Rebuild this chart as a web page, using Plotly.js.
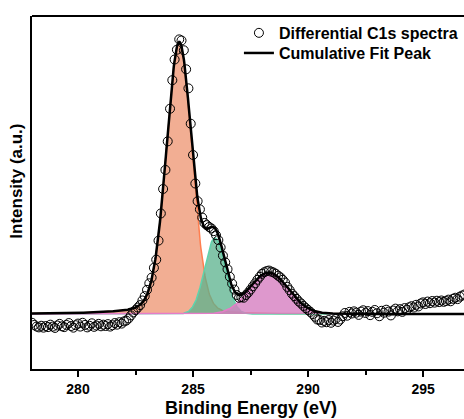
<!DOCTYPE html>
<html>
<head>
<meta charset="utf-8">
<script src="https://cdn.plot.ly/plotly-3.0.1.min.js"></script>
<style>
html,body{margin:0;padding:0;background:#fff;}
#chart{width:464px;height:419px;}
</style>
</head>
<body>
<div id="chart"></div>
<script>
// Measured spectrum: binding energy grid and intensities (a.u.)
const energyStart = 278.0;
const energyStep = 0.1;
const intensity = [
  -3.2,-4.0,-4.6,-4.9,-4.3,-5.0,-4.4,-4.8,-3.9,-4.6,
  -5.1,-4.2,-3.6,-4.5,-4.8,-4.0,-3.3,-4.4,-5.0,-4.1,
  -3.5,-4.6,-3.2,-4.0,-4.9,-4.3,-3.4,-4.7,-4.2,-3.6,
  -4.5,-3.9,-4.4,-3.7,-4.6,-4.1,-3.3,-3.9,-3.0,-3.5,
  -2.7,-2.4,-1.6,-0.5,0.6,1.5,2.4,3.3,5.0,6.6,
  8.9,11.3,13.4,17.0,20.0,27.0,37.0,46.0,53.0,63.5,
  75.5,86.0,93.6,97.2,101.0,100.6,97.0,90.0,83.0,70.0,
  58.5,48.0,41.5,38.5,35.5,33.5,32.7,32.0,31.5,30.5,
  29.0,27.2,24.5,21.5,19.0,16.5,13.7,11.2,9.0,7.0,
  6.0,6.2,6.0,7.0,7.9,9.0,10.2,11.3,12.6,13.7,
  14.8,15.4,15.8,16.0,15.6,15.3,14.8,14.1,13.5,12.6,
  11.6,10.0,8.8,7.5,6.6,5.6,4.6,3.9,3.0,2.2,
  1.5,0.8,0.0,-1.0,-2.0,-2.2,-3.1,-2.5,-3.0,-2.2,
  -3.2,-2.4,-1.8,-2.9,-2.0,-0.8,0.4,-0.6,0.8,0.2,
  1.0,0.5,-0.3,0.9,1.4,0.4,1.1,-0.4,0.8,1.5,
  0.3,-0.8,1.2,0.5,1.6,0.9,-0.5,1.3,2.0,1.0,
  1.8,0.8,2.2,1.6,2.5,2.9,2.4,3.4,2.8,3.9,
  4.3,3.7,4.6,4.0,4.8,4.2,4.9,4.4,5.0,4.5,
  4.8,5.3,4.7,5.6,6.0,5.5,6.4,6.8,7.2
];

// Fitted component peaks (pseudo-Voigt parameters)
const peakCenters = [284.4, 285.95, 288.3];
const peakHeights = [100, 28, 15];
const peakHwhmLeft = [0.66, 0.525, 1.0];
const peakHwhmRight = [0.65, 0.525, 1.0];
const peakEtaLeft = [0.2, 0, 0];
const peakEtaRight = [0.1, 0, 0];
const peakFill = ['rgba(240,160,128,0.85)', 'rgba(90,178,140,0.75)', 'rgba(214,126,192,0.8)'];
const peakLine = ['#FF7F50', '#5FD3AC', '#E57CC8'];

const xTickVals = [280, 285, 290, 295];
const xTickText = ['280', '285', '290', '295'];

const energy = intensity.map((_, i) => +(energyStart + i * energyStep).toFixed(2));

function pv(E, k) {
  const d = E - peakCenters[k];
  const w = d < 0 ? peakHwhmLeft[k] : peakHwhmRight[k];
  const eta = d < 0 ? peakEtaLeft[k] : peakEtaRight[k];
  const t = (d / w) * (d / w);
  return peakHeights[k] * ((1 - eta) * Math.exp(-Math.LN2 * t) + eta / (1 + t));
}

const fine = [];
for (let e = 278.0; e <= 296.9001; e += 0.02) fine.push(+e.toFixed(3));

const traces = [];
for (let k = 0; k < peakCenters.length; k++) {
  traces.push({
    x: fine, y: fine.map(e => pv(e, k)),
    type: 'scatter', mode: 'lines', fill: 'tozeroy',
    fillcolor: peakFill[k], line: {color: peakLine[k], width: 1.5},
    showlegend: false, hoverinfo: 'skip'
  });
}
traces.push({
  x: energy, y: intensity, type: 'scatter', mode: 'markers',
  name: 'Differential C1s spectra', legend: 'legend',
  marker: {symbol: 'circle-open', size: 9, color: '#000', line: {width: 1, color: '#000'}}
});
traces.push({
  x: fine, y: fine.map(e => pv(e, 0) + pv(e, 1) + pv(e, 2)),
  type: 'scatter', mode: 'lines', name: 'Cumulative Fit Peak', legend: 'legend2',
  line: {color: '#000', width: 2.5}
});

const FONT = 'Liberation Sans, Arial, Helvetica, sans-serif';
const legendBase = {
  xanchor: 'left', yanchor: 'middle',
  bgcolor: 'rgba(0,0,0,0)', borderwidth: 0,
  font: {size: 16, family: FONT, weight: 'bold'}
};
const layout = {
  width: 464, height: 419,
  margin: {l: 32, r: 0, t: 16, b: 50},
  paper_bgcolor: '#fff', plot_bgcolor: '#fff',
  font: {family: FONT, color: '#000'},
  xaxis: {
    range: [278, 296.78], tickvals: xTickVals, ticktext: xTickText,
    ticks: 'outside', ticklen: 6, tickwidth: 2, tickcolor: '#000',
    minor: {tickvals: [282.5, 287.5, 292.5], ticks: 'outside', ticklen: 4, tickwidth: 2, tickcolor: '#000'},
    showline: true, linewidth: 2, linecolor: '#000',
    showgrid: false, zeroline: false,
    tickfont: {size: 14, family: FONT, weight: 'bold'}
  },
  yaxis: {
    range: [-20.2, 109.6], showticklabels: false, ticks: '',
    showline: true, linewidth: 2, linecolor: '#000',
    showgrid: false, zeroline: false
  },
  shapes: [{type: 'line', xref: 'paper', yref: 'paper', x0: 0, x1: 1, y0: 1, y1: 1, line: {color: '#000', width: 2}}],
  annotations: [
    {text: 'Binding Energy (eV)', xref: 'paper', yref: 'paper', x: 0.507, y: -0.110,
     xanchor: 'center', yanchor: 'middle', showarrow: false,
     font: {size: 18, family: FONT, weight: 'bold'}},
    {text: 'Intensity (a.u.)', xref: 'paper', yref: 'paper', x: -0.035, y: 0.533,
     xanchor: 'center', yanchor: 'middle', showarrow: false, textangle: -90,
     font: {size: 17, family: FONT, weight: 'bold'}}
  ],
  legend: Object.assign({x: 0.479, y: 0.952}, legendBase),
  legend2: Object.assign({x: 0.479, y: 0.895}, legendBase),
  showlegend: true
};

Plotly.newPlot('chart', traces, layout, {displayModeBar: false, staticPlot: true});
</script>
</body>
</html>
